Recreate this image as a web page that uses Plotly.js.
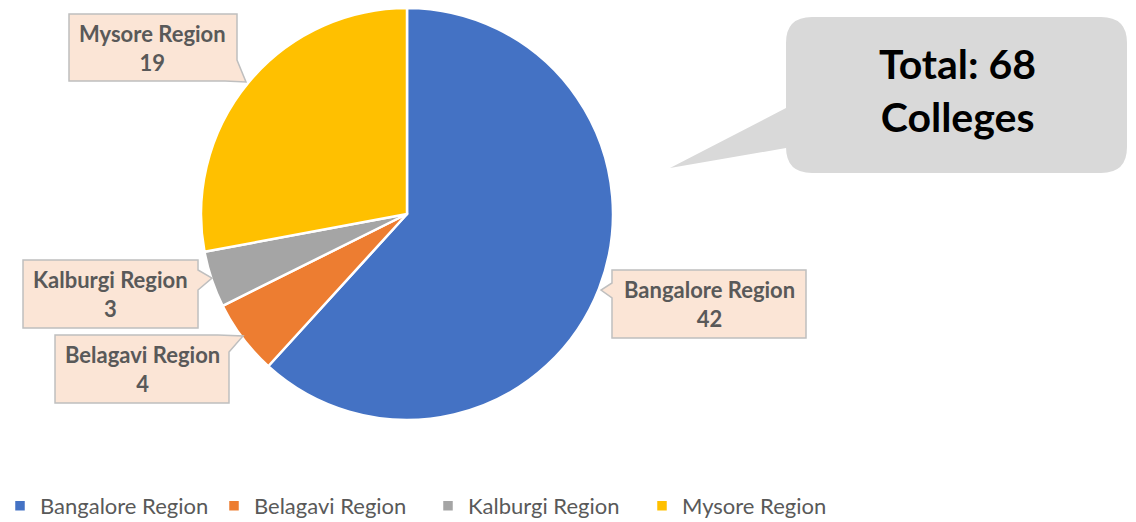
<!DOCTYPE html>
<html>
<head>
<meta charset="utf-8">
<script src="https://cdn.plot.ly/plotly-3.0.1.min.js"></script>
<style>html,body{margin:0;padding:0;background:#fff;}#chart{width:1136px;height:522px;}</style>
</head>
<body>
<div id="chart"></div>
<script>
const regions = ["Bangalore Region", "Belagavi Region", "Kalburgi Region", "Mysore Region"];
const colleges = [42, 4, 3, 19];
const sliceColors = ["#4472C4", "#ED7D31", "#A5A5A5", "#FFC000"];
const totalLabel = "Total: 68<br>Colleges";

const W = 1136, H = 522;
const FONT = "Lato, 'Noto Sans', sans-serif";
function P(x, y) { return (x / W).toFixed(5) + "," + (1 - y / H).toFixed(5); }
function path(pts) { return "M" + pts.map(p => P(p[0], p[1])).join(" L") + " Z"; }

// callout boxes (pixel geometry)
const callouts = [
  { i: 3, cx: 153, cy: 48, pts: [[69,14],[237,14],[237,60],[246,82],[225,81],[69,81]] },
  { i: 0, cx: 709, cy: 304, pts: [[612,270],[806,270],[806,338],[612,338],[612,298],[601,290],[612,283]] },
  { i: 2, cx: 110, cy: 294, pts: [[23,260],[198,260],[198,270],[212,278],[198,290],[198,328],[23,328]] },
  { i: 1, cx: 142, cy: 369, pts: [[55,335],[218,335],[243,336],[229,352],[229,403],[55,403]] }
];

const shapes = callouts.map(c => ({
  type: "path", xref: "paper", yref: "paper", path: path(c.pts),
  fillcolor: "#FBE5D6", line: { color: "#BFBFBF", width: 1.5 }, layer: "above"
}));

// rounded total callout
(function () {
  const x0 = 786, y0 = 17, x1 = 1127, y1 = 173, r = 26;
  let d = "M" + P(x0 + r, y0) + " L" + P(x1 - r, y0) + " Q" + P(x1, y0) + " " + P(x1, y0 + r) +
    " L" + P(x1, y1 - r) + " Q" + P(x1, y1) + " " + P(x1 - r, y1) +
    " L" + P(x0 + r, y1) + " Q" + P(x0, y1) + " " + P(x0, y1 - r) +
    " L" + P(x0, 148) + " L" + P(670, 168) + " L" + P(x0, 108) +
    " L" + P(x0, y0 + r) + " Q" + P(x0, y0) + " " + P(x0 + r, y0) + " Z";
  shapes.push({ type: "path", xref: "paper", yref: "paper", path: d, fillcolor: "#D9D9D9", line: { width: 0 } });
})();

const annotations = callouts.map(c => ({
  xref: "paper", yref: "paper", x: c.cx / W, y: 1 - c.cy / H, xanchor: "center", yanchor: "middle",
  showarrow: false, align: "center",
  text: "<b>" + regions[c.i] + "<br>" + colleges[c.i] + "</b>",
  font: { family: FONT, size: 22, color: "#595959" }
}));
annotations.push({
  xref: "paper", yref: "paper", x: 957 / W, y: 1 - 90 / H, xanchor: "center", yanchor: "middle",
  showarrow: false, align: "center", text: "<b>" + totalLabel + "</b>",
  font: { family: FONT, size: 41, color: "#000000" }
});

const data = [{
  type: "pie", labels: regions, values: colleges, sort: false, direction: "clockwise", rotation: 0,
  marker: { colors: sliceColors, line: { color: "#FFFFFF", width: 2.5 } },
  textinfo: "none", hoverinfo: "none",
  domain: { x: [201 / W, 613 / W], y: [1 - 420 / H, 1 - 8 / H] }
}];

const layout = {
  width: W, height: H, margin: { l: 0, r: 0, t: 0, b: 0, autoexpand: false },
  paper_bgcolor: "#FFFFFF", showlegend: true,
  legend: { orientation: "h", x: 0, xanchor: "left", y: 1 - 506 / H, yanchor: "middle",
    entrywidth: 169, entrywidthmode: "pixels",
    font: { family: FONT, size: 22, color: "#595959" }, traceorder: "normal" },
  shapes: shapes, annotations: annotations
};

Plotly.newPlot("chart", data, layout, { staticPlot: true });
</script>
</body>
</html>
